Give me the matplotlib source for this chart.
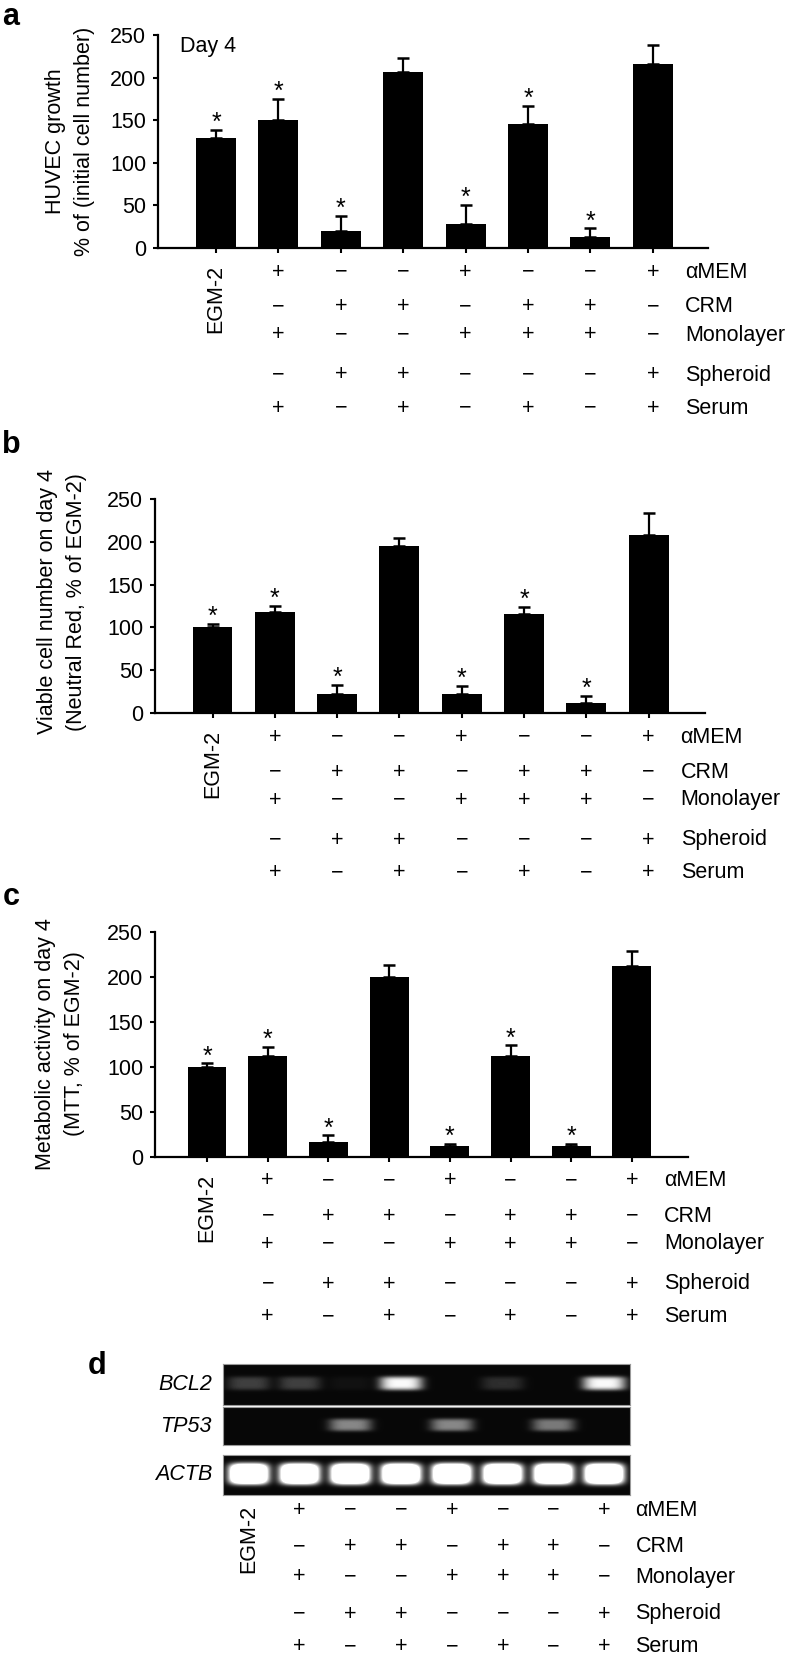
import numpy as np
import matplotlib
matplotlib.use('Agg')
from matplotlib import pyplot as plt
from matplotlib import transforms

plt.rcParams['font.family'] = ['Liberation Sans', 'DejaVu Sans']

W, H = 793, 1661
FS = 15.5

# ---- data ----
row_labels = ['\u03b1MEM', 'CRM', 'Monolayer', 'Spheroid', 'Serum']
row_signs = [
    ['+', '\u2212', '\u2212', '+', '\u2212', '\u2212', '+'],
    ['\u2212', '+', '+', '\u2212', '+', '+', '\u2212'],
    ['+', '\u2212', '\u2212', '+', '+', '+', '\u2212'],
    ['\u2212', '+', '+', '\u2212', '\u2212', '\u2212', '+'],
    ['+', '\u2212', '+', '\u2212', '+', '\u2212', '+'],
]
growth_mean = [129, 150, 20, 206, 28, 146, 13, 216]
growth_err = [10, 25, 18, 17, 23, 21, 10, 22]
neutral_mean = [100, 118, 22, 195, 22, 116, 11.5, 208]
neutral_err = [4, 7, 11, 10, 10, 8, 8, 26]
mtt_mean = [100, 112, 17, 200, 12, 112, 12, 212]
mtt_err = [4, 10, 7, 13, 3, 12, 3, 17]
significant = [True, True, True, False, True, True, True, False]

genes = ['BCL2', 'TP53', 'ACTB']
bcl2_band = [0.22, 0.22, 0.04, 0.95, 0.0, 0.15, 0.0, 0.95]
tp53_band = [0.0, 0.0, 0.5, 0.0, 0.5, 0.0, 0.45, 0.0]
actb_band = [1.0, 1.0, 1.0, 1.0, 1.0, 1.0, 1.0, 1.0]

fig = plt.figure(figsize=(W / 100, H / 100), dpi=100)


def px_axes(left, top, width, height):
    return fig.add_axes([left / W, 1 - (top + height) / H, width / W, height / H])


def fy(ypx):
    return 1 - ypx / H


def draw_table(ax, cols, ybase, offsets, egm_off, label_dx):
    tr = transforms.blended_transform_factory(ax.transData, fig.transFigure)
    for r, lab in enumerate(row_labels):
        y = fy(ybase + offsets[r])
        for c, s in enumerate(row_signs[r]):
            ax.text(cols[c + 1], y, s, transform=tr, ha='center', va='center',
                    fontsize=FS)
        ax.text(cols[-1] + label_dx, y, lab, transform=tr, ha='left',
                va='center', fontsize=FS)
    ax.text(cols[0], fy(ybase + egm_off), 'EGM-2', transform=tr, rotation=90,
            ha='center', va='center', fontsize=FS)


def bar_panel(layout, mean, err, ylabel, ylab_x, ylab_y, letter, letter_pos):
    left, top, height, first, step, right = layout
    ax = px_axes(left, top, right - left, height)
    x = np.arange(len(mean))
    ax.bar(x, mean, width=0.64, color='k', zorder=2)
    ax.errorbar(x, mean, yerr=[np.zeros(len(err)), err], fmt='none', ecolor='k',
                elinewidth=1.6, capsize=4, capthick=1.8, zorder=3)
    for i in range(len(mean)):
        if significant[i]:
            ax.annotate('*', (x[i], mean[i] + err[i]), xytext=(0, 0),
                        textcoords='offset points', ha='center', va='baseline',
                        fontsize=18)
    ax.set_xlim((left - first) / step, (right - first) / step)
    ax.set_ylim(0, 250)
    ax.set_yticks([0, 50, 100, 150, 200, 250])
    ax.set_xticks(x)
    ax.set_xticklabels([])
    for s in ['top', 'right']:
        ax.spines[s].set_visible(False)
    for s in ['left', 'bottom']:
        ax.spines[s].set_linewidth(1.6)
    ax.tick_params(axis='both', direction='out', length=3.6, width=1.5,
                   labelsize=FS, pad=5)
    fig.text(ylab_x / W, fy(ylab_y), ylabel, rotation=90, ha='center',
             va='center', multialignment='center', fontsize=FS, linespacing=1.55)
    fig.text(letter_pos[0] / W, fy(letter_pos[1]), letter, fontsize=22,
             fontweight='bold', ha='left', va='baseline')
    cols = list(x)
    label_dx = 32 / step
    draw_table(ax, cols, top + height, [24, 59, 87, 127, 160], 51, label_dx)
    return ax


# panel a
ax_a = bar_panel((158, 35, 213, 216, 62.4, 708), growth_mean, growth_err,
                 'HUVEC growth\n% of (initial cell number)', 70, 141,
                 'a', (2, 25))
fig.text(180 / W, fy(52), 'Day 4', fontsize=FS, ha='left', va='baseline')

# panel b
bar_panel((155, 499, 214, 212.5, 62.3, 705), neutral_mean, neutral_err,
          'Viable cell number on day 4\n(Neutral Red, % of EGM-2)', 62, 602,
          'b', (2, 453))

# panel c
bar_panel((155, 932, 225, 207, 60.7, 688), mtt_mean, mtt_err,
          'Metabolic activity on day 4\n(MTT, % of EGM-2)', 60, 1044,
          'c', (3, 905))

# panel d: gel strips
strips = [(1364, 41, bcl2_band), (1407, 38, tp53_band), (1455, 40, actb_band)]
gel_left, gel_w = 223, 407
gel_axes = []
for (top, h, band), gene in zip(strips, genes):
    ax = px_axes(gel_left, top, gel_w, h)
    xx = np.linspace(0, 8, gel_w)
    yy = np.linspace(0, 1, h)
    X, Y = np.meshgrid(xx, yy)
    img = np.full(X.shape, 0.03)
    strong = gene == 'ACTB'
    for i, amp in enumerate(band):
        dx = (X - (i + 0.5)) / (0.38 if strong else 0.42)
        dy = (Y - 0.47) / (0.26 if strong else 0.17)
        a = amp * (2.2 if strong else 1.0)
        img = img + a * np.exp(-dx ** 4 - dy ** 4)
    img = np.clip(img, 0, 1)
    ax.imshow(img, cmap='gray', vmin=0, vmax=1, aspect='auto',
              extent=(0, 8, 0, 1), interpolation='bilinear', origin='upper')
    ax.set_xlim(0, 8)
    ax.set_ylim(0, 1)
    ax.set_xticks([])
    ax.set_yticks([])
    for s in ax.spines.values():
        s.set_color('#999999')
        s.set_linewidth(0.8)
    fig.text(212 / W, fy(top + h / 2), gene, fontsize=FS, style='italic',
             ha='right', va='center')
    gel_axes.append(ax)

fig.text(88 / W, fy(1374), 'd', fontsize=22, fontweight='bold', ha='left',
         va='baseline')
lanes = [i + 0.5 for i in range(8)]
draw_table(gel_axes[-1], lanes, 1495, [15, 52, 82, 119, 152], 44,
           31 / (gel_w / 8))

fig.savefig('out.png', dpi=100)
